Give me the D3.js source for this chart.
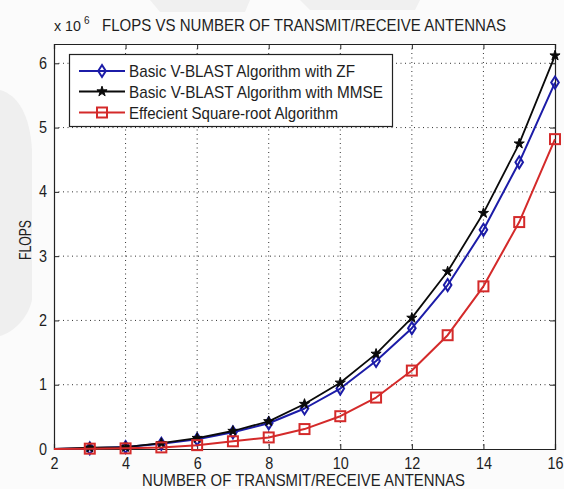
<!DOCTYPE html>
<html>
<head>
<meta charset="utf-8">
<script src="https://cdn.jsdelivr.net/npm/d3@7"></script>
<style>
  html, body { margin: 0; padding: 0; background: #ffffff; }
  svg { display: block; }
  text { font-family: "Liberation Sans", Arial, Helvetica, sans-serif; fill: #1e1e1e; }
</style>
</head>
<body>
<svg id="chart" width="564" height="489"></svg>
<script>
// Number of transmit/receive antennas
const antennas = [2, 3, 4, 5, 6, 7, 8, 9, 10, 11, 12, 13, 14, 15, 16];
// FLOPS in units of 10^6
const zfFlops     = [0.00, 0.01, 0.03, 0.08, 0.15, 0.26, 0.40, 0.63, 0.94, 1.37, 1.88, 2.55, 3.41, 4.46, 5.70];
const mmseFlops   = [0.00, 0.02, 0.03, 0.09, 0.17, 0.28, 0.43, 0.70, 1.03, 1.48, 2.04, 2.76, 3.67, 4.75, 6.12];
const sqrootFlops = [0.00, 0.005, 0.01, 0.025, 0.06, 0.12, 0.18, 0.31, 0.51, 0.80, 1.22, 1.77, 2.53, 3.53, 4.82];
const seriesNames = [
  "Basic V-BLAST Algorithm with ZF",
  "Basic V-BLAST Algorithm with MMSE",
  "Effecient Square-root Algorithm"
];
const xTicks = [2, 4, 6, 8, 10, 12, 14, 16];
const yTicks = [0, 1, 2, 3, 4, 5, 6];
const titleText = "FLOPS VS NUMBER OF TRANSMIT/RECEIVE ANTENNAS";
const xLabelText = "NUMBER OF TRANSMIT/RECEIVE ANTENNAS";
const yLabelText = "FLOPS";
// markers start at the first antenna count after the left axis limit
const markerFrom = 3;

const svg = d3.select("#chart");
const plot = { left: 54, right: 555, top: 44, bottom: 449 };

const x = d3.scaleLinear().domain([2, 16]).range([plot.left, plot.right]);
const y = d3.scaleLinear().domain([0, 6.3]).range([plot.bottom, plot.top]);

// squeeze text horizontally to a given width (narrow figure font)
function fitWidth(sel, w) {
  sel.attr("textLength", w).attr("lengthAdjust", "spacingAndGlyphs");
}
function squeeze(sel, k) {
  sel.each(function () {
    const len = this.getComputedTextLength();
    d3.select(this).attr("textLength", len * k).attr("lengthAdjust", "spacingAndGlyphs");
  });
}

// faint background wash around the figure
const bg = svg.append("g");
bg.append("rect").attr("x", 0).attr("y", 0).attr("width", 564).attr("height", 489).attr("fill", "#fbfbfb");
bg.append("path")
  .attr("d", "M0,90 C18,95 30,115 32,150 L32,300 C28,318 14,332 0,336 Z")
  .attr("fill", "#efefef");
bg.append("path")
  .attr("d", "M150,0 L250,0 L245,12 L160,12 Z M300,0 L420,0 L415,10 L310,10 Z")
  .attr("fill", "#f0f0f0");

// plot area
svg.append("rect")
  .attr("x", plot.left).attr("y", plot.top)
  .attr("width", plot.right - plot.left).attr("height", plot.bottom - plot.top)
  .attr("fill", "#ffffff");

// dotted grid
const grid = svg.append("g").attr("stroke", "#333").attr("stroke-width", 1)
  .attr("stroke-dasharray", "1,3.5");
grid.selectAll("line.gx").data(xTicks.slice(1, -1)).join("line")
  .attr("x1", d => x(d)).attr("x2", d => x(d))
  .attr("y1", plot.top).attr("y2", plot.bottom);
grid.selectAll("line.gy").data(yTicks.slice(1)).join("line")
  .attr("x1", plot.left).attr("x2", plot.right)
  .attr("y1", d => y(d)).attr("y2", d => y(d));

// axes with inward ticks on all four sides
const tickLen = 5;
const axB = svg.append("g").attr("transform", `translate(0,${plot.bottom})`)
  .call(d3.axisBottom(x).tickValues(xTicks).tickSize(-tickLen).tickPadding(9).tickFormat(d3.format("d")));
const axT = svg.append("g").attr("transform", `translate(0,${plot.top})`)
  .call(d3.axisTop(x).tickValues(xTicks).tickSize(-tickLen).tickFormat(""));
const axL = svg.append("g").attr("transform", `translate(${plot.left},0)`)
  .call(d3.axisLeft(y).tickValues(yTicks).tickSize(-tickLen).tickPadding(7).tickFormat(d3.format("d")));
const axR = svg.append("g").attr("transform", `translate(${plot.right},0)`)
  .call(d3.axisRight(y).tickValues(yTicks).tickSize(-tickLen).tickFormat(""));
[axB, axT, axL, axR].forEach(a => {
  a.select(".domain").attr("stroke", "#222").attr("stroke-width", 1.2);
  a.selectAll(".tick line").attr("stroke", "#222").attr("stroke-width", 1);
  a.selectAll(".tick text").attr("font-size", 16).attr("fill", "#1e1e1e")
    .style("font-family", "'Liberation Sans', Arial, sans-serif");
});
axB.selectAll(".tick text").call(squeeze, 0.9);
axL.selectAll(".tick text").call(squeeze, 0.9);

// series
const series = [
  { values: zfFlops,     color: "#1c1ca8", marker: "diamond", width: 2 },
  { values: mmseFlops,   color: "#0a0a0a", marker: "star",    width: 1.8 },
  { values: sqrootFlops, color: "#d42a2a", marker: "square",  width: 2 }
];
const line = d3.line().x(d => x(d[0])).y(d => y(d[1]));

function drawMarker(g, kind, color, cx, cy) {
  if (kind === "diamond") {
    g.append("path")
      .attr("d", `M${cx},${cy - 6}L${cx + 3.8},${cy}L${cx},${cy + 6}L${cx - 3.8},${cy}Z`)
      .attr("fill", "none").attr("stroke", color).attr("stroke-width", 2);
  } else if (kind === "square") {
    g.append("rect").attr("x", cx - 5).attr("y", cy - 5).attr("width", 10).attr("height", 10)
      .attr("fill", "none").attr("stroke", color).attr("stroke-width", 2);
  } else {
    g.append("path")
      .attr("d", d3.symbol().type(d3.symbolStar).size(32)())
      .attr("transform", `translate(${cx},${cy})`)
      .attr("fill", color).attr("stroke", color).attr("stroke-width", 1);
  }
}

series.forEach(s => {
  const pts = antennas.map((a, i) => [a, s.values[i]]);
  const g = svg.append("g");
  g.append("path").datum(pts).attr("d", line)
    .attr("fill", "none").attr("stroke", s.color).attr("stroke-width", s.width)
    .attr("stroke-linejoin", "round");
  pts.filter(p => p[0] >= markerFrom).forEach(p => drawMarker(g, s.marker, s.color, x(p[0]), y(p[1])));
});

// legend
const legend = svg.append("g");
legend.append("rect").attr("x", 69.5).attr("y", 54.5).attr("width", 323).attr("height", 72)
  .attr("fill", "#ffffff").attr("stroke", "#222").attr("stroke-width", 1.2);
const rowY = [71, 91.5, 112.5];
const textW = [226, 254, 209];
series.forEach((s, i) => {
  legend.append("line").attr("x1", 79).attr("x2", 125).attr("y1", rowY[i]).attr("y2", rowY[i])
    .attr("stroke", s.color).attr("stroke-width", s.width);
  drawMarker(legend, s.marker, s.color, 102, rowY[i]);
  legend.append("text").attr("x", 129).attr("y", rowY[i] + 6)
    .attr("font-size", 17).text(seriesNames[i]).call(fitWidth, textW[i]);
});

// title, exponent and axis labels
svg.append("text").attr("x", 102).attr("y", 31).attr("font-size", 17)
  .text(titleText).call(fitWidth, 404);
svg.append("text").attr("x", 54).attr("y", 31).attr("font-size", 14)
  .text("x 10").call(fitWidth, 27);
svg.append("text").attr("x", 84).attr("y", 24).attr("font-size", 10).text("6");
svg.append("text").attr("x", 142).attr("y", 486).attr("font-size", 17)
  .text(xLabelText).call(fitWidth, 323);
svg.append("text").attr("transform", "translate(31,240) rotate(-90)")
  .attr("text-anchor", "middle").attr("font-size", 16)
  .text(yLabelText).call(fitWidth, 40);
</script>
</body>
</html>
